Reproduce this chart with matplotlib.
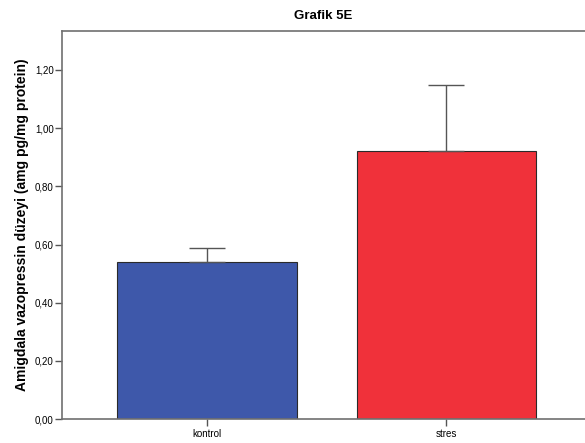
import matplotlib.pyplot as plt
import matplotlib.ticker as mticker

plt.rcParams['font.family'] = ['Liberation Sans', 'DejaVu Sans']

groups = ['kontrol', 'stres']
means = [0.54, 0.92]
errors = [0.048, 0.23]
colors = ['#3e58aa', '#f0313a']

fig = plt.figure(figsize=(5.85, 4.43), dpi=100)
ax = fig.add_axes([0.106, 0.054, 0.894, 0.876])

x = list(range(len(groups)))
ax.bar(x, means, width=0.75, color=colors, edgecolor='#2a2a2a', linewidth=0.8, zorder=2)
ax.errorbar(x, means, yerr=[[0, 0], errors], fmt='none', ecolor='#555555',
            elinewidth=1.0, capsize=13, capthick=1.0, zorder=3)

ax.set_xlim(-0.607, 1.58)
ax.set_ylim(0, 1.334)
ax.set_xticks(x)
ax.set_xticklabels(groups, fontsize=7)
ax.yaxis.set_major_locator(mticker.MultipleLocator(0.2))
ax.yaxis.set_major_formatter(mticker.FuncFormatter(lambda v, p: f"{v:.2f}".replace('.', ',')))
ax.tick_params(axis='y', labelsize=7, length=5, width=1, color='#555555', pad=1)
ax.tick_params(axis='x', length=5, width=1, color='#555555', pad=2)

for side in ['left', 'top', 'bottom']:
    ax.spines[side].set_color('#707070')
    ax.spines[side].set_linewidth(1.2)
ax.spines['right'].set_visible(False)

ax.set_ylabel('Amigdala vazopressin düzeyi (amg pg/mg protein)', fontsize=10,
              fontweight='bold', labelpad=4)
ax.set_title('Grafik 5E', fontsize=9.5, fontweight='bold', pad=9)

fig.savefig('out.png', dpi=100)
